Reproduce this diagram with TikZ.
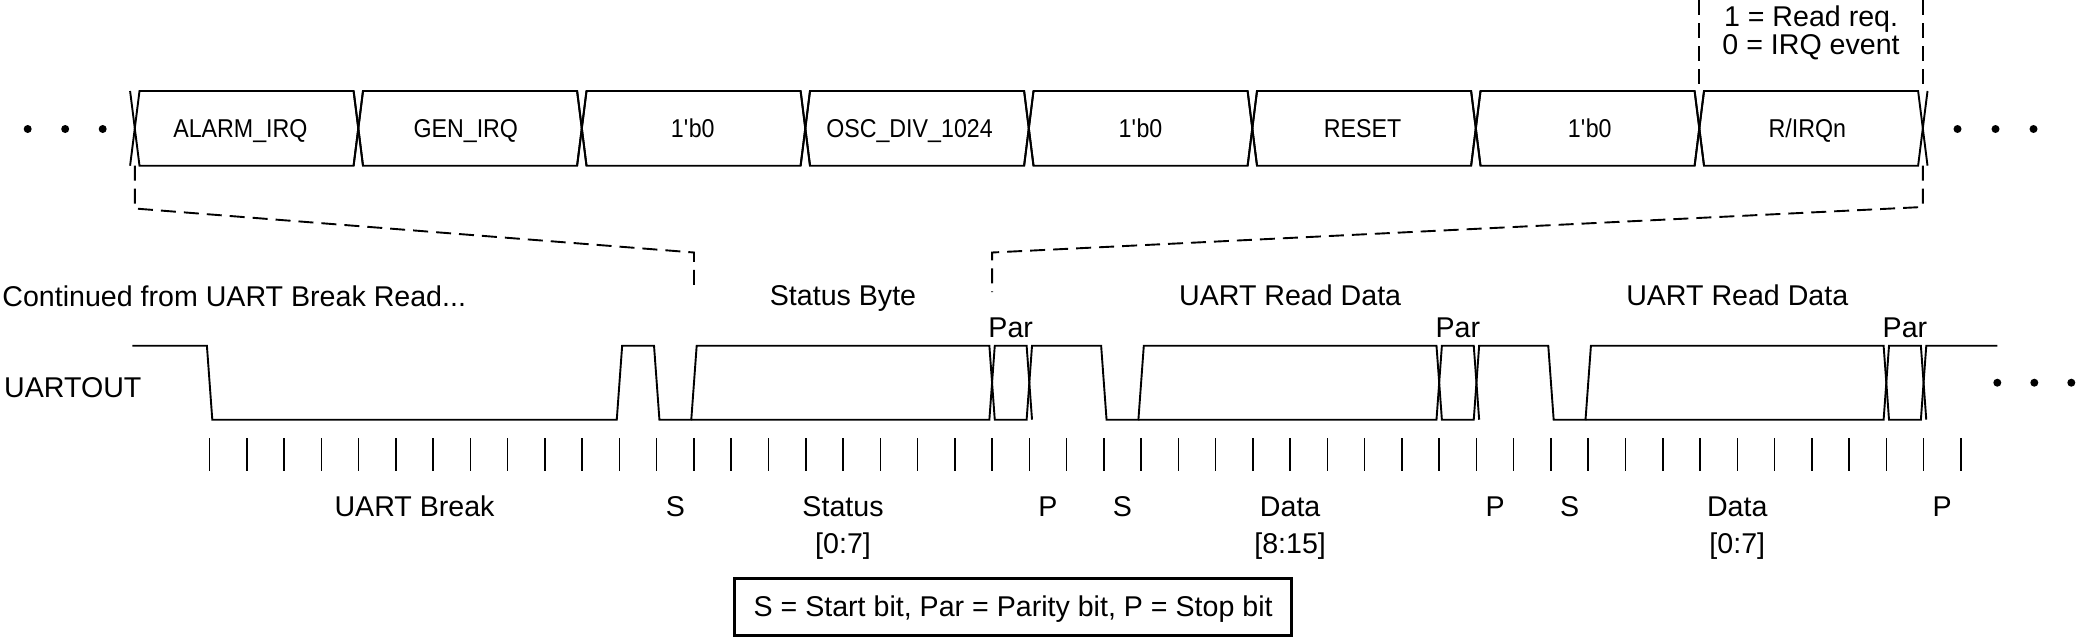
\documentclass[tikz,border=0pt]{standalone}
\usepackage{fontspec}
\setmainfont{Liberation Sans}
\newfontfamily\busfont{Liberation Sans}[FakeStretch=0.9]
\newcommand\tkx[1]{(209.6+37.26*(#1))}
\newcommand\busx[1]{(134.8+223.5*(#1))}
\def\edg{2.7}
\def\yhi{345.7}
\def\ylo{419.7}
\def\ybt{91}
\def\ybb{165.7}
\def\ybm{128.35}
\def\bd{4.7}
\begin{document}
\begin{tikzpicture}[x=1pt,y=-1pt,
  lbl/.style={inner sep=0pt, font=\fontsize{28.6}{34}\selectfont},
  buslbl/.style={inner sep=0pt, font=\busfont\fontsize{25.8}{30}\selectfont},
  busline/.style={line width=1.9pt},
  wave/.style={line width=1.9pt},
  tickline/.style={line width=1.5pt},
  dashline/.style={line width=1.9pt, dash pattern=on 15pt off 8pt},
  dotmark/.style={circle, fill, inner sep=0pt, minimum size=8pt},
  legendbox/.style={draw, line width=3pt, inner sep=0pt, minimum width=557pt, minimum height=57.5pt, text depth=1.5pt, font=\fontsize{28.6}{34}\selectfont}
]
\useasboundingbox (0,0) rectangle (2077,637);

% ---------- top bus ----------
\foreach \k in {0,...,7} {
  \draw[busline] ({\busx{\k}-\bd},\ybb) -- ({\busx{\k}+\bd},\ybt) -- ({\busx{\k+1}-\bd},\ybt) -- ({\busx{\k+1}+\bd},\ybb);
  \draw[busline] ({\busx{\k}-\bd},\ybt) -- ({\busx{\k}+\bd},\ybb) -- ({\busx{\k+1}-\bd},\ybb) -- ({\busx{\k+1}+\bd},\ybt);
}
\node[buslbl, anchor=base] (b1) at (240.4,137) {ALARM\_IRQ};
\node[buslbl, anchor=base] (b2) at (465.8,137) {GEN\_IRQ};
\node[buslbl, anchor=base] (b3) at (692.8,137) {1\textquotesingle b0};
\node[buslbl, anchor=base] (b4) at (909.5,137) {OSC\_DIV\_1024};
\node[buslbl, anchor=base] (b5) at (1140.5,137) {1\textquotesingle b0};
\node[buslbl, anchor=base] (b6) at (1362.6,137) {RESET};
\node[buslbl, anchor=base] (b7) at (1589.8,137) {1\textquotesingle b0};
\node[buslbl, anchor=base] (b8) at (1807.3,137) {R/IRQn};

% dots
\node[dotmark] (dl1) at (27.7,129) {};
\node[dotmark] (dl2) at (65.2,129) {};
\node[dotmark] (dl3) at (102.7,129) {};
\node[dotmark] (dr1) at (1957.5,129) {};
\node[dotmark] (dr2) at (1995.5,129) {};
\node[dotmark] (dr3) at (2033.5,129) {};
\node[dotmark] (du1) at (1997.3,382.7) {};
\node[dotmark] (du2) at (2034.3,382.7) {};
\node[dotmark] (du3) at (2071.3,382.7) {};

% R/IRQn note
\node[lbl, anchor=base] (n1) at ({(\busx{7}+\busx{8})/2},26) {1 = Read req.};
\node[lbl, anchor=base] (n2) at ({(\busx{7}+\busx{8})/2},54) {0 = IRQ event};

% ---------- dashed guides ----------
\coordinate (c7t) at ({\busx{7}},0);
\coordinate (c7b) at ({\busx{7}},\ybt);
\coordinate (c8t) at ({\busx{8}},0);
\coordinate (c8b) at ({\busx{8}},\ybt);
\coordinate (c0d) at ({\busx{0}},\ybb);
\coordinate (c0k) at ({\busx{0}},208.5);
\coordinate (s13k) at ({\tkx{13}},252.5);
\coordinate (s13e) at ({\tkx{13}},292);
\coordinate (c8d) at ({\busx{8}},\ybb);
\coordinate (c8k) at ({\busx{8}},207);
\coordinate (s21k) at ({\tkx{21}},252.5);
\coordinate (s21e) at ({\tkx{21}},292);
\draw[dashline] (c7t) -- (c7b);
\draw[dashline] (c8t) -- (c8b);
\draw[dashline] (c0d) -- (c0k) -- (s13k) -- (s13e);
\draw[dashline] (c8d) -- (c8k) -- (s21k) -- (s21e);

% ---------- labels above waveform ----------
\node[lbl, anchor=base west] (cont) at (2.2,306) {Continued from UART Break Read...};
\node[lbl, anchor=base] (sbyte) at ({\tkx{17}},305.3) {Status Byte};
\node[lbl, anchor=base] (rd1) at ({\tkx{29}},305.3) {UART Read Data};
\node[lbl, anchor=base] (rd2) at ({\tkx{41}},305.3) {UART Read Data};
\node[lbl, anchor=base] (par1) at ({\tkx{21.5}},337) {Par};
\node[lbl, anchor=base] (par2) at ({\tkx{33.5}},337) {Par};
\node[lbl, anchor=base] (par3) at ({\tkx{45.5}},337) {Par};
\node[lbl, anchor=base west] (uo) at (4,397.3) {UARTOUT};

% ---------- waveform ----------
\draw[wave] (132.3,\yhi) -- ({\tkx{0}-\edg},\yhi) -- ({\tkx{0}+\edg},\ylo)
  -- ({\tkx{11}-\edg},\ylo) -- ({\tkx{11}+\edg},\yhi)
  -- ({\tkx{12}-\edg},\yhi) -- ({\tkx{12}+\edg},\ylo)
  -- ({\tkx{13}-\edg},\ylo) -- ({\tkx{13}+\edg},\yhi)
  -- ({\tkx{21}-\edg},\yhi) -- ({\tkx{21}+\edg},\ylo)
  -- ({\tkx{22}-\edg},\ylo) -- ({\tkx{22}+\edg},\yhi)
  -- ({\tkx{24}-\edg},\yhi) -- ({\tkx{24}+\edg},\ylo)
  -- ({\tkx{25}-\edg},\ylo) -- ({\tkx{25}+\edg},\yhi)
  -- ({\tkx{33}-\edg},\yhi) -- ({\tkx{33}+\edg},\ylo)
  -- ({\tkx{34}-\edg},\ylo) -- ({\tkx{34}+\edg},\yhi)
  -- ({\tkx{36}-\edg},\yhi) -- ({\tkx{36}+\edg},\ylo)
  -- ({\tkx{37}-\edg},\ylo) -- ({\tkx{37}+\edg},\yhi)
  -- ({\tkx{45}-\edg},\yhi) -- ({\tkx{45}+\edg},\ylo)
  -- ({\tkx{46}-\edg},\ylo) -- ({\tkx{46}+\edg},\yhi)
  -- (1997.3,\yhi);
\foreach \ia/\ib in {13/21, 25/33, 37/45} {
  \draw[wave] ({\tkx{\ia}-\edg},\ylo) -- ({\tkx{\ib}-\edg},\ylo) -- ({\tkx{\ib}+\edg},\yhi)
    -- ({\tkx{\ib+1}-\edg},\yhi) -- ({\tkx{\ib+1}+\edg},\ylo);
}

% ---------- ticks ----------
\foreach \i in {0,...,47} {
  \draw[tickline] ({\tkx{\i}},438.3) -- ({\tkx{\i}},470.7);
}

% ---------- labels below ----------
\node[lbl, anchor=base] (lbrk) at ({\tkx{5.5}},516) {UART Break};
\node[lbl, anchor=base] (ls1) at ({\tkx{12.5}},516) {S};
\node[lbl, anchor=base] (lst) at ({\tkx{17}},516) {Status};
\node[lbl, anchor=base] (lst2) at ({\tkx{17}},553) {[0:7]};
\node[lbl, anchor=base] (lp1) at ({\tkx{22.5}},516) {P};
\node[lbl, anchor=base] (ls2) at ({\tkx{24.5}},516) {S};
\node[lbl, anchor=base] (ld1) at ({\tkx{29}},516) {Data};
\node[lbl, anchor=base] (ld1b) at ({\tkx{29}},553) {[8:15]};
\node[lbl, anchor=base] (lp2) at ({\tkx{34.5}},516) {P};
\node[lbl, anchor=base] (ls3) at ({\tkx{36.5}},516) {S};
\node[lbl, anchor=base] (ld2) at ({\tkx{41}},516) {Data};
\node[lbl, anchor=base] (ld2b) at ({\tkx{41}},553) {[0:7]};
\node[lbl, anchor=base] (lp3) at ({\tkx{46.5}},516) {P};

% ---------- legend ----------
\node[legendbox] (legend) at (1013.1,606.75) {S = Start bit, Par = Parity bit, P = Stop bit};
\end{tikzpicture}
\end{document}
